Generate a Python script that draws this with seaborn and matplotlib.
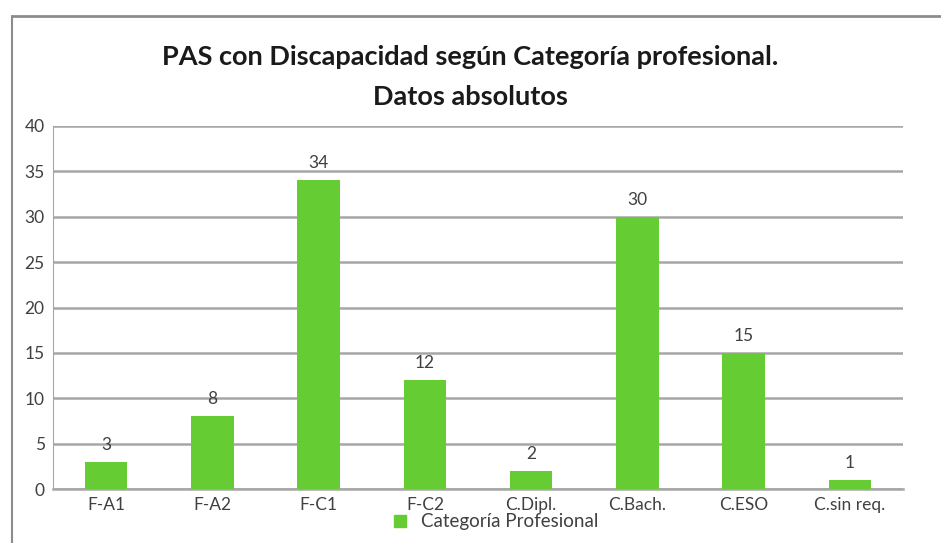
import matplotlib
matplotlib.use("Agg")
import matplotlib.pyplot as plt
import seaborn as sns
import pandas as pd
from matplotlib.lines import Line2D

categorias = ["F-A1", "F-A2", "F-C1", "F-C2", "C.Dipl.", "C.Bach.", "C.ESO", "C.sin req."]
valores = [3, 8, 34, 12, 2, 30, 15, 1]
y_ticks = [0, 5, 10, 15, 20, 25, 30, 35, 40]

GREEN = "#66CC33"
GRID_GRAY = "#A6A6A6"
TEXT = "#404040"

sns.set_style("white")
plt.rcParams["font.family"] = ["Lato", "DejaVu Sans"]

df = pd.DataFrame({"Categoria": categorias, "Valor": valores})

fig = plt.figure(figsize=(9.41, 5.43), dpi=100)
ax = fig.add_axes([53 / 941, 1 - 489 / 543, (903 - 53) / 941, (489 - 126) / 543])

sns.barplot(data=df, x="Categoria", y="Valor", color=GREEN, width=0.4,
            saturation=1, linewidth=0, ax=ax, zorder=3)

ax.set_ylim(0, 40)
ax.set_yticks(y_ticks)
ax.yaxis.grid(True, color=GRID_GRAY, linewidth=1.8, zorder=0)
ax.set_axisbelow(True)
for side in ["top", "right"]:
    ax.spines[side].set_visible(False)
ax.spines["left"].set_color(GRID_GRAY)
ax.spines["bottom"].set_color(GRID_GRAY)
ax.spines["bottom"].set_linewidth(1.8)
ax.tick_params(axis="both", length=0, labelsize=12.5, colors=TEXT, pad=6)
ax.set_xlabel("")
ax.set_ylabel("")

for i, v in enumerate(valores):
    ax.text(i, v + 1.0, str(v), ha="center", va="bottom", fontsize=12.5, color=TEXT)

fig.text(0.5, 1 - 57 / 543, "PAS con Discapacidad según Categoría profesional.",
         ha="center", va="center", fontsize=19.5, fontweight="bold", color="#1a1a1a")
fig.text(0.5, 1 - 97 / 543, "Datos absolutos",
         ha="center", va="center", fontsize=19.5, fontweight="bold", color="#1a1a1a")

handle = Line2D([0], [0], marker="s", color="none", markerfacecolor=GREEN,
                markeredgecolor=GREEN, markersize=9)
fig.legend([handle], ["Categoría Profesional"], loc="center",
           bbox_to_anchor=(490 / 941, 1 - 522 / 543), frameon=False,
           fontsize=13.5, handletextpad=0.1, labelcolor=TEXT)

# outer chart frame
fig.add_artist(Line2D([12 / 941, 1], [1 - 16 / 543, 1 - 16 / 543],
                      transform=fig.transFigure, color="#8c8c8c", linewidth=2))
fig.add_artist(Line2D([12 / 941, 12 / 941], [0, 1 - 16 / 543],
                      transform=fig.transFigure, color="#8c8c8c", linewidth=1.5))

fig.savefig("out.png", dpi=100)
plt.close(fig)
